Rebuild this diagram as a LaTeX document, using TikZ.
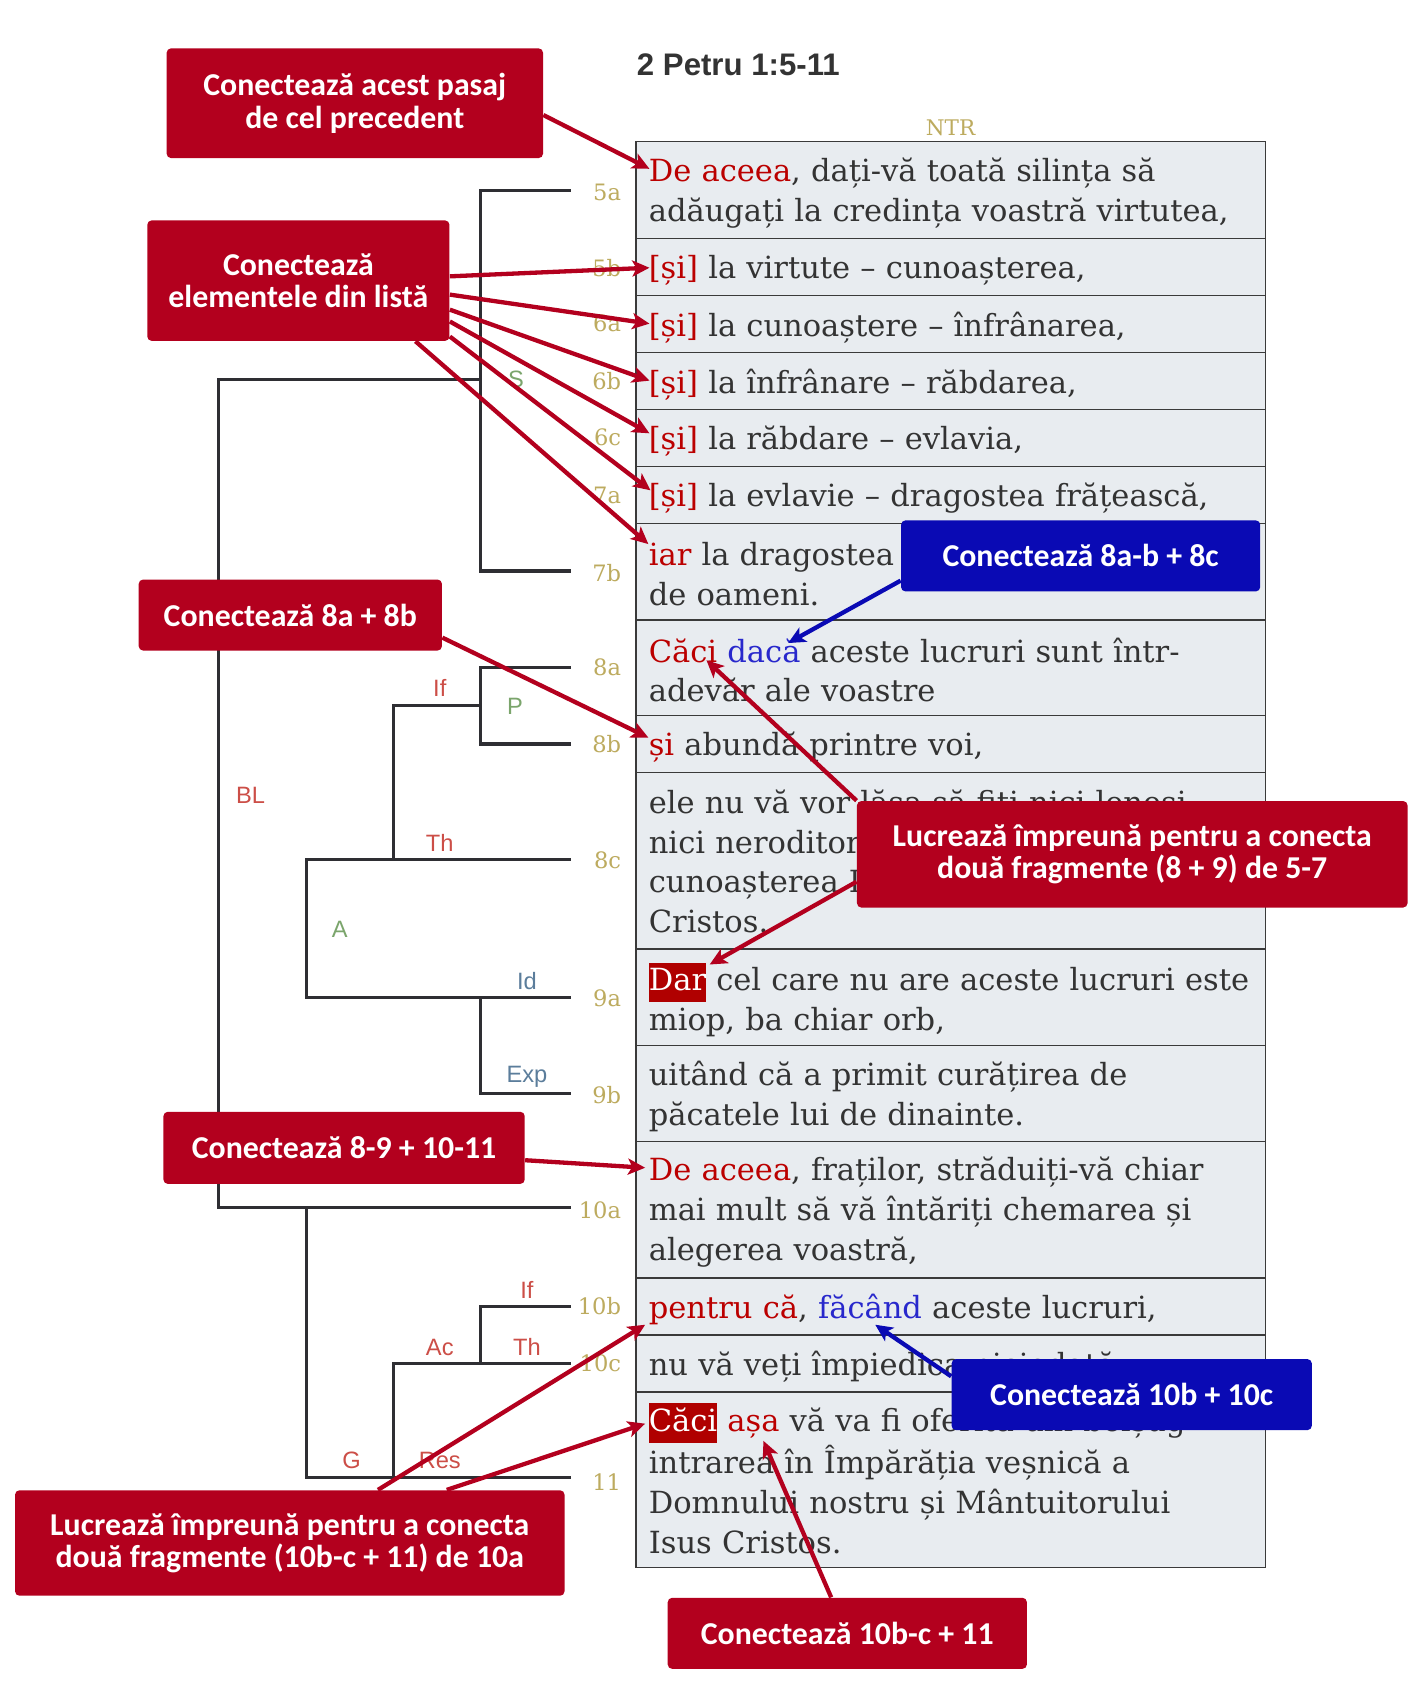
\documentclass[tikz,border=0pt]{standalone}
\usepackage{fontspec}
\setmainfont{DejaVu Serif}
\newfontfamily\versefont{DejaVu Serif}
\newfontfamily\calfont{Carlito}
\newfontfamily\labfont{Liberation Sans}
\usetikzlibrary{arrows.meta,calc}
\definecolor{boxred}{HTML}{B3001E}
\definecolor{boxblue}{HTML}{0A0AB4}
\definecolor{txtred}{HTML}{BB0000}
\definecolor{txtblue}{HTML}{2828CC}
\definecolor{hlred}{HTML}{B00000}
\definecolor{rowfill}{HTML}{E8ECF0}
\definecolor{rowline}{HTML}{3A3A3A}
\definecolor{treeline}{HTML}{2E2E33}
\definecolor{gold}{HTML}{BDAB5F}
\definecolor{lred}{HTML}{CC4E47}
\definecolor{lgreen}{HTML}{7BA56C}
\definecolor{lblue}{HTML}{5B7D9B}
\definecolor{txtdark}{HTML}{333333}
\newcommand\redw[1]{\textcolor{txtred}{#1}}
\newcommand\blu[1]{\textcolor{txtblue}{#1}}
\newcommand\hlbox[1]{{\setlength{\fboxsep}{0pt}\colorbox{hlred}{\strut\textcolor{white}{#1}}}}
\tikzset{
  rowbox/.style={draw=rowline, line width=0.6pt, fill=rowfill, anchor=north west,
    minimum width=292.5pt, inner sep=0pt},
  rowtext/.style={anchor=west, text width=300pt, inner sep=0pt, align=left,
    font=\versefont\fontsize{14.2}{18.5}\selectfont, text=txtdark},
  vlabel/.style={anchor=east, text=gold, inner sep=0pt, font=\versefont\fontsize{10.5}{12}\selectfont},
  tlabel/.style={inner sep=0pt, font=\labfont\fontsize{11}{13}\selectfont},
  tree/.style={draw=treeline, line width=1.5pt},
  callout/.style={rounded corners=2pt, inner sep=0pt, align=center,
    font=\calfont\bfseries\fontsize{14.8}{15}\selectfont, text=white},
  redbox/.style={callout, fill=boxred},
  bluebox/.style={callout, fill=boxblue},
  redarrow/.style={draw=boxred, line width=2pt, -{Stealth[length=8pt,width=7.5pt,inset=2pt]}},
  bluearrow/.style={draw=boxblue, line width=2pt, -{Stealth[length=8pt,width=7.5pt,inset=2pt]}}
}
\begin{document}
\begin{tikzpicture}[x=0.5pt,y=-0.5pt]
\useasboundingbox[fill=white] (0,0) rectangle (1324,1568);

% title
\node[anchor=west, inner sep=0pt, text=txtdark, font=\labfont\bfseries\fontsize{14.5}{17}\selectfont] (title) at (592,60) {2 Petru 1:5-11};
\node[text=gold, inner sep=0pt, font=\versefont\fontsize{10}{12}\selectfont] (ntr) at (884,119) {NTR};

% table rows
\node[rowbox, minimum height=45pt] (r5a) at (591,131) {};
\node[rowbox, minimum height=26.5pt] (r5b) at (591,221) {};
\node[rowbox, minimum height=26.5pt] (r6a) at (591,274) {};
\node[rowbox, minimum height=26.5pt] (r6b) at (591,327) {};
\node[rowbox, minimum height=26.5pt] (r6c) at (591,380) {};
\node[rowbox, minimum height=26.5pt] (r7a) at (591,433) {};
\node[rowbox, minimum height=45pt] (r7b) at (591,486) {};
\node[rowbox, minimum height=44.5pt] (r8a) at (591,576) {};
\node[rowbox, minimum height=26.5pt] (r8b) at (591,665) {};
\node[rowbox, minimum height=82pt] (r8c) at (591,718) {};
\node[rowbox, minimum height=45pt] (r9a) at (591,882) {};
\node[rowbox, minimum height=44.5pt] (r9b) at (591,972) {};
\node[rowbox, minimum height=63.5pt] (r10a) at (591,1061) {};
\node[rowbox, minimum height=26.5pt] (r10b) at (591,1188) {};
\node[rowbox, minimum height=26.5pt] (r10c) at (591,1241) {};
\node[rowbox, minimum height=81.5pt] (r11) at (591,1294) {};

% row texts
\node[rowtext] (x5a) at ($(r5a.west)+(12,3)$) {\redw{De aceea}, dați-vă toată silința să\\adăugați la credința voastră virtutea,};
\node[rowtext] (x5b) at ($(r5b.west)+(12,3.5)$) {\redw{[și]} la virtute – cunoașterea,};
\node[rowtext] (x6a) at ($(r6a.west)+(12,3.5)$) {\redw{[și]} la cunoaștere – înfrânarea,};
\node[rowtext] (x6b) at ($(r6b.west)+(12,3.5)$) {\redw{[și]} la înfrânare – răbdarea,};
\node[rowtext] (x6c) at ($(r6c.west)+(12,3.5)$) {\redw{[și]} la răbdare – evlavia,};
\node[rowtext] (x7a) at ($(r7a.west)+(12,3.5)$) {\redw{[și]} la evlavie – dragostea frățească,};
\node[rowtext] (x7b) at ($(r7b.west)+(12,2)$) {\redw{iar} la dragostea frățească – dragostea\\de oameni.};
\node[rowtext] (x8a) at ($(r8a.west)+(12,2)$) {\redw{Căci} \blu{dacă} aceste lucruri sunt într-\\adevăr ale voastre};
\node[rowtext] (x8b) at ($(r8b.west)+(12,3)$) {\redw{și} abundă printre voi,};
\node[rowtext] (x8c) at ($(r8c.west)+(12,0.5)$) {ele nu vă vor lăsa să fiți nici leneși,\\nici neroditori în ceea ce privește\\cunoașterea Domnului nostru Isus\\Cristos.};
\node[rowtext] (x9a) at ($(r9a.west)+(12,2)$) {\hlbox{Dar} cel care nu are aceste lucruri este\\miop, ba chiar orb,};
\node[rowtext] (x9b) at ($(r9b.west)+(12,2.5)$) {uitând că a primit curățirea de\\păcatele lui de dinainte.};
\node[rowtext] (x10a) at ($(r10a.west)+(12,2)$) {\redw{De aceea}, fraților, străduiți-vă chiar\\mai mult să vă întăriți chemarea și\\alegerea voastră,};
\node[rowtext] (x10b) at ($(r10b.west)+(12,2.5)$) {\redw{pentru că}, \blu{făcând} aceste lucruri,};
\node[rowtext] (x10c) at ($(r10c.west)+(12,2.5)$) {nu vă veți împiedica niciodată.};
\node[rowtext] (x11) at ($(r11.west)+(12,-1)$) {\hlbox{Căci} \redw{așa} vă va fi oferită din belșug\\intrarea în Împărăția veșnică a\\Domnului nostru și Mântuitorului\\Isus Cristos.};

% verse labels
\node[vlabel] (v5a) at (578,179) {5a};
\node[vlabel] (v5b) at (578,249) {5b};
\node[vlabel] (v6a) at (578,301) {6a};
\node[vlabel] (v6b) at (578,354) {6b};
\node[vlabel] (v6c) at (578,407) {6c};
\node[vlabel] (v7a) at (578,461) {7a};
\node[vlabel] (v7b) at (578,533) {7b};
\node[vlabel] (v8a) at (578,621) {8a};
\node[vlabel] (v8b) at (578,692) {8b};
\node[vlabel] (v8c) at (578,800) {8c};
\node[vlabel] (v9a) at (578,928) {9a};
\node[vlabel] (v9b) at (578,1018) {9b};
\node[vlabel] (v10a) at (578,1126) {10a};
\node[vlabel] (v10b) at (578,1215) {10b};
\node[vlabel] (v10c) at (578,1268) {10c};
\node[vlabel] (v11) at (578,1378) {11};

% tree
\draw[tree] (531,177) -| (447,531) -- (531,531);
\draw[tree] (447,353) -| (203,1123) -- (531,1123);
\draw[tree] (531,621) -| (447,692) -- (531,692);
\draw[tree] (447,656) -| (366,799);
\draw[tree] (531,799) -| (285,928) -- (531,928);
\draw[tree] (447,928) |- (531,1017);
\draw[tree] (285,1123) |- (531,1374);
\draw[tree] (366,1374) |- (531,1268);
\draw[tree] (447,1268) |- (531,1215);

% tree labels
\node[tlabel, text=lgreen] (lS) at (480,353) {S};
\node[tlabel, text=lred] (lIf1) at (409,640) {If};
\node[tlabel, text=lgreen] (lP) at (479,657) {P};
\node[tlabel, text=lred] (lBL) at (233,740) {BL};
\node[tlabel, text=lred] (lTh1) at (409,784) {Th};
\node[tlabel, text=lgreen] (lA) at (316,864) {A};
\node[tlabel, text=lblue] (lId) at (490,912) {Id};
\node[tlabel, text=lblue] (lExp) at (490,1001) {Exp};
\node[tlabel, text=lred] (lIf2) at (490,1200) {If};
\node[tlabel, text=lred] (lAc) at (409,1253) {Ac};
\node[tlabel, text=lred] (lTh2) at (490,1253) {Th};
\node[tlabel, text=lred] (lG) at (327,1358) {G};
\node[tlabel, text=lred] (lRes) at (409,1358) {Res};

% callouts
\node[redbox, minimum width=175pt, minimum height=51pt] (c1) at (330,96) {Conectează acest pasaj\\de cel precedent};
\node[redbox, minimum width=140.5pt, minimum height=56pt] (c2) at (277.5,261) {Conectează\\elementele din listă};
\node[redbox, minimum width=141pt, minimum height=33pt] (c3) at (270,572) {Conectează 8a + 8b};
\node[bluebox, minimum width=167pt, minimum height=33pt] (c4) at (1005,517) {Conectează 8a-b + 8c};
\node[redbox, minimum width=256pt, minimum height=49.5pt] (c5) at (1053,794.5) {Lucrează împreună pentru a conecta\\două fragmente (8 + 9) de 5-7};
\node[redbox, minimum width=168pt, minimum height=33.5pt] (c6) at (320,1067.5) {Conectează 8-9 + 10-11};
\node[bluebox, minimum width=167.5pt, minimum height=33pt] (c7) at (1052.5,1297) {Conectează 10b + 10c};
\node[redbox, minimum width=255.5pt, minimum height=49pt] (c8) at (269.5,1435) {Lucrează împreună pentru a conecta\\două fragmente (10b-c + 11) de 10a};
\node[redbox, minimum width=167pt, minimum height=33pt] (c9) at (788,1519) {Conectează 10b-c + 11};

% arrow targets
\coordinate (t5a) at (604,157);
\coordinate (t5b) at (604,249);
\coordinate (t6a) at (604,301);
\coordinate (t6b) at (604,354);
\coordinate (t6c) at (604,403);
\coordinate (t7a) at (605,456);
\coordinate (t7b) at (603,506);
\coordinate (t8b) at (603,686);
\coordinate (t8a) at (733,598);
\coordinate (t8caci) at (657,614);
\coordinate (t9a) at (660,897);
\coordinate (t10a) at (600,1086);
\coordinate (t10bf) at (814,1232);
\coordinate (t10b) at (600,1232);
\coordinate (t11) at (600,1324);
\coordinate (t11asa) at (710,1340);

% arrows
\draw[redarrow] ([yshift=-5.5pt]c1.east) -- (t5a);
\draw[redarrow] ([yshift=2pt]c2.east) -- (t5b);
\draw[redarrow] ([yshift=-6.5pt]c2.east) -- (t6a);
\draw[redarrow] ([yshift=-13.5pt]c2.east) -- (t6b);
\draw[redarrow] ([yshift=-19pt]c2.east) -- (t6c);
\draw[redarrow] ([yshift=-26pt]c2.east) -- (t7a);
\draw[redarrow] ([xshift=-16pt]c2.south east) -- (t7b);
\draw[redarrow] ([yshift=-10.5pt]c3.east) -- (t8b);
\draw[bluearrow] ([yshift=-11.5pt]c4.west) -- (t8a);
\draw[redarrow] (c5.north west) -- (t8caci);
\draw[redarrow] ([yshift=-12.75pt]c5.west) -- (t9a);
\draw[redarrow] ([yshift=-5.75pt]c6.east) -- (t10a);
\draw[bluearrow] ([yshift=8.5pt]c7.west) -- (t10bf);
\draw[redarrow] ([xshift=41pt]c8.north) -- (t10b);
\draw[redarrow] ([xshift=73pt]c8.north) -- (t11);
\draw[redarrow] ([xshift=-7.5pt]c9.north) -- (t11asa);
\end{tikzpicture}
\end{document}
